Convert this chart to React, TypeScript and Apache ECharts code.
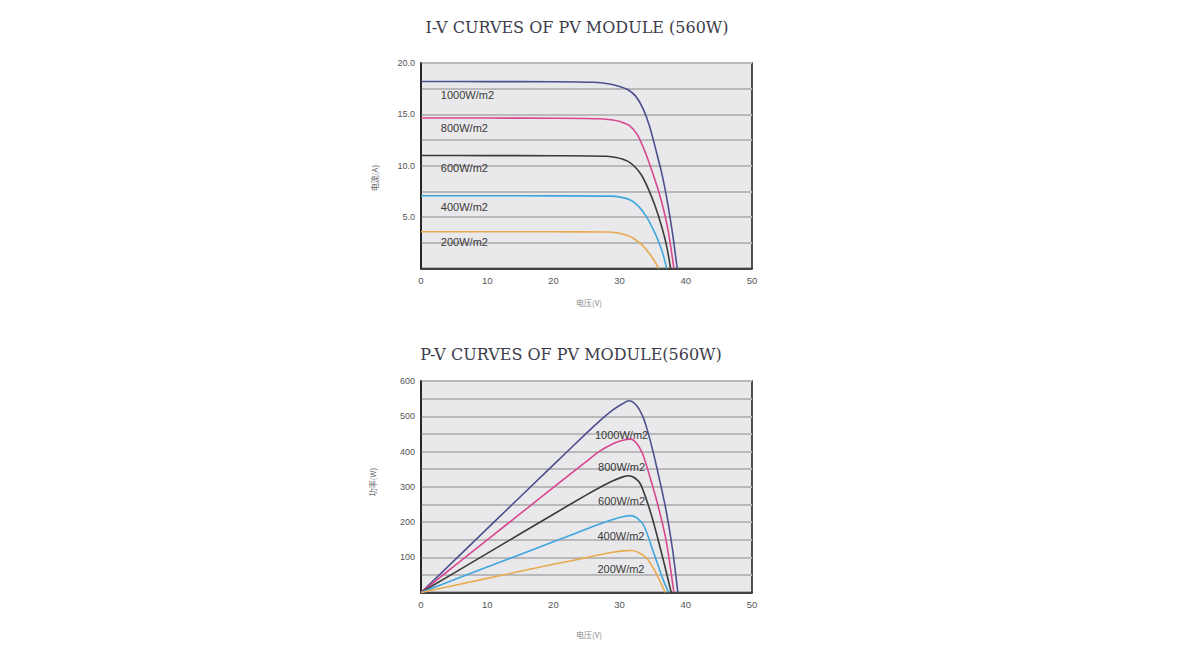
import React, { useEffect, useRef } from "react";
import * as echarts from "echarts";

// ---------- DATA ----------
const irradiances = ["1000W/m2", "800W/m2", "600W/m2", "400W/m2", "200W/m2"];
const colors = ["#4d4f8e", "#d8478f", "#3b3b3b", "#3ea6dc", "#e9aa50"];

const iv1000 = [[0, 18.2], [10, 18.19], [20, 18.18], [26, 18.12], [28.5, 17.95], [30, 17.72], [31.2, 17.42], [32.4, 16.8], [33.5, 15.6], [34.5, 13.9], [35.5, 11.5], [36.5, 8.9], [37.3, 6.2], [38, 3.4], [38.7, 0]];
const iv800 = [[0, 14.65], [10, 14.64], [20, 14.63], [27, 14.58], [29, 14.45], [30.3, 14.25], [31.5, 13.9], [32.7, 13.0], [34, 11.1], [35.2, 8.9], [36.3, 6.6], [37.3, 3.8], [38.2, 0]];
const iv600 = [[0, 11.0], [10, 10.99], [20, 10.98], [28, 10.93], [29.5, 10.8], [31.2, 10.45], [32.3, 9.9], [33.3, 9.1], [34.3, 7.8], [35.3, 6.2], [36.3, 4.2], [37.1, 2.2], [37.7, 0]];
const iv400 = [[0, 7.08], [10, 7.08], [20, 7.07], [29, 7.04], [30.5, 6.9], [31.7, 6.65], [32.8, 6.1], [34, 5.1], [35, 3.9], [35.9, 2.6], [36.6, 1.3], [37.1, 0]];
const iv200 = [[0, 3.58], [10, 3.58], [20, 3.57], [28, 3.55], [29.8, 3.45], [31.2, 3.2], [32.3, 2.85], [33.3, 2.35], [34.2, 1.7], [35.1, 0.9], [35.9, 0]];

const pv1000 = [[0, 0], [10, 181], [20, 362], [25, 452], [27, 487], [29, 518], [30.5, 536], [31.4, 544], [32.5, 532], [33.5, 500], [34.5, 440], [35.7, 348], [37, 235], [38, 122], [38.8, 0]];
const pv800 = [[0, 0], [10, 149], [20, 298], [25, 372], [27, 401], [29, 422], [30.5, 432], [31.7, 435], [32.7, 420], [33.5, 392], [34.4, 339], [35.7, 254], [37, 150], [38.2, 0]];
const pv600 = [[0, 0], [10, 111], [20, 222], [25, 277], [27, 298], [29, 317], [30.5, 328], [31.4, 331], [32.5, 322], [33.2, 306], [34.7, 226], [36.2, 122], [37.8, 0]];
const pv400 = [[0, 0], [10, 72], [20, 144], [25, 180], [27, 194], [29, 207], [30.5, 215], [31.7, 218], [32.7, 210], [33.7, 188], [35.2, 110], [36.5, 40], [37.4, 0]];
const pv200 = [[0, 0], [10, 40], [20, 80], [25, 99], [27, 107], [29, 114], [30.5, 118], [31.9, 119], [33, 112], [34.2, 95], [35.5, 55], [36.9, 0]];

const ivSeries = [iv1000, iv800, iv600, iv400, iv200];
const pvSeries = [pv1000, pv800, pv600, pv400, pv200];

// label anchor positions (data coords)
const ivLabelV = [3.0, 3.0, 3.0, 3.0, 3.0];
const ivLabelI = [16.9, 13.7, 9.8, 6.0, 2.6];
const pvLabelV = [30.3, 30.3, 30.3, 30.2, 30.2];
const pvLabelP = [447, 357, 260, 161, 68];

const ivYTicks = [0, 20, 2.5];
const pvYTicks = [0, 600, 50];
const xTicks = [0, 50, 10];

const title1 = "I-V CURVES OF PV MODULE (560W)";
const title2 = "P-V CURVES OF PV MODULE(560W)";
const ivYName = "电流(A)";
const pvYName = "功率(W)";
const xName = "电压(V)";

export default function App() {
  const ref = useRef<HTMLDivElement>(null);
  useEffect(() => {
    document.body.style.margin = "0";
    const chart = echarts.init(ref.current!, undefined, { renderer: "svg" });
    const gridBase = {
      left: 421,
      width: 331,
      show: true,
      backgroundColor: "#e9e9eb",
      borderColor: "#1a1a1a",
      borderWidth: 1.5,
      containLabel: false,
    };
    const axisLabelStyle = { color: "#555", fontSize: 9, fontFamily: "Liberation Sans" };
    const xAxisBase = (gi: number) => ({
      type: "value",
      gridIndex: gi,
      min: xTicks[0],
      max: xTicks[1],
      interval: xTicks[2],
      axisLine: { show: true, lineStyle: { color: "#1a1a1a", width: 1.5 } },
      axisTick: { show: false },
      splitLine: { show: false },
      axisLabel: { ...axisLabelStyle, fontSize: 9.5, margin: 7 },
    });
    const mkSeries = (data: number[][][], gi: number, lv: number[], lp: number[], pos: string) =>
      data.map((d, i) => ({
        type: "line",
        xAxisIndex: gi,
        yAxisIndex: gi,
        data: d,
        showSymbol: false,
        smooth: 0.3,
        lineStyle: { color: colors[i], width: 1.6 },
        z: 3,
        markPoint: {
          symbol: "circle",
          symbolSize: 0,
          silent: true,
          data: [
            {
              coord: [lv[i], lp[i]],
              label: {
                show: true,
                formatter: irradiances[i],
                position: pos,
                distance: 0,
                color: "#3a3a3a",
                fontSize: 11,
                fontFamily: "Liberation Sans",
              },
            },
          ],
        },
      }));

    const titleStyle = {
      fill: "#3c3c4c",
      fontSize: 16,
      fontFamily: "DejaVu Serif",
      align: "center",
      verticalAlign: "middle",
    };

    chart.setOption({
      animation: false,
      grid: [
        { ...gridBase, top: 63, height: 205.5 },
        { ...gridBase, top: 381, height: 211.5 },
      ],
      xAxis: [xAxisBase(0), xAxisBase(1)],
      yAxis: [
        {
          type: "value",
          gridIndex: 0,
          min: ivYTicks[0],
          max: ivYTicks[1],
          interval: ivYTicks[2],
          axisLine: { show: true, lineStyle: { color: "#1a1a1a", width: 1.5 } },
          axisTick: { show: false },
          splitLine: { show: true, lineStyle: { color: "#b9b9bb", width: 2 } },
          axisLabel: {
            ...axisLabelStyle,
            margin: 6,
            formatter: (v: number) => (v > 0 && v % 5 === 0 ? v.toFixed(1) : ""),
          },
        },
        {
          type: "value",
          gridIndex: 1,
          min: pvYTicks[0],
          max: pvYTicks[1],
          interval: pvYTicks[2],
          axisLine: { show: true, lineStyle: { color: "#1a1a1a", width: 1.5 } },
          axisTick: { show: false },
          splitLine: { show: true, lineStyle: { color: "#b9b9bb", width: 2 } },
          axisLabel: {
            ...axisLabelStyle,
            margin: 6,
            formatter: (v: number) => (v > 0 && v % 100 === 0 ? String(v) : ""),
          },
        },
      ],
      series: [
        ...mkSeries(ivSeries, 0, ivLabelV, ivLabelI, "right"),
        ...mkSeries(pvSeries, 1, pvLabelV, pvLabelP, "inside"),
      ],
      graphic: [
        { type: "text", x: 577, y: 27, style: { ...titleStyle, text: title1 } },
        { type: "text", x: 571, y: 354, style: { ...titleStyle, text: title2 } },
        {
          type: "text",
          x: 374,
          y: 178,
          rotation: Math.PI / 2,
          style: { text: ivYName, fill: "#666", fontSize: 8, fontFamily: "Noto Sans CJK SC", align: "center", verticalAlign: "middle" },
        },
        {
          type: "text",
          x: 372,
          y: 482,
          rotation: Math.PI / 2,
          style: { text: pvYName, fill: "#666", fontSize: 8, fontFamily: "Noto Sans CJK SC", align: "center", verticalAlign: "middle" },
        },
        {
          type: "text",
          x: 589,
          y: 302,
          style: { text: xName, fill: "#888", fontSize: 8, fontFamily: "Noto Sans CJK SC", align: "center", verticalAlign: "middle" },
        },
        {
          type: "text",
          x: 589,
          y: 634,
          style: { text: xName, fill: "#888", fontSize: 8, fontFamily: "Noto Sans CJK SC", align: "center", verticalAlign: "middle" },
        },
      ],
    });
    return () => chart.dispose();
  }, []);
  return <div ref={ref} style={{ width: 1200, height: 654 }} />;
}
